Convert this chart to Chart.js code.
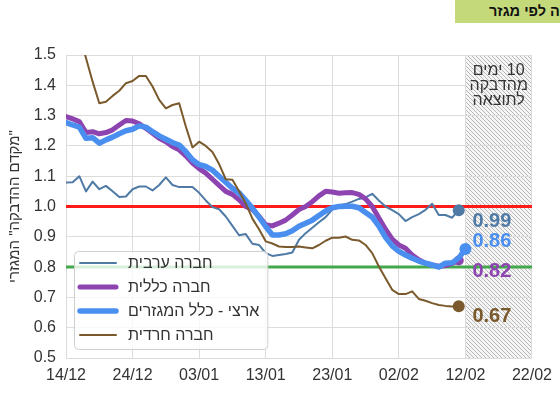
<!DOCTYPE html>
<html lang="he">
<head>
<meta charset="utf-8">
<script src="https://cdn.jsdelivr.net/npm/chart.js@4.4.1/dist/chart.umd.min.js"></script>
<style>
  html, body { margin: 0; padding: 0; background: #fff; }
  #wrap { position: relative; width: 560px; height: 398px; overflow: hidden; }
  #chart { position: absolute; left: 0; top: 0; }
  .title-box {
    position: absolute; left: 455px; top: 0; width: 105px; height: 23px;
    background: #c4d97a; overflow: hidden;
  }
  .title-box span {
    position: absolute; left: 34px; top: 3px; white-space: nowrap; direction: rtl;
    font: bold 14.5px "Liberation Sans", Arial, sans-serif; color: #111;
  }
</style>
</head>
<body>
<div id="wrap">
  <canvas id="chart" width="560" height="398"></canvas>
  <div class="title-box"><span>מקדם הדבקה לפי מגזר</span></div>
</div>
<script>
// ─────────────────────────────────────────
//  DATA  (x = days since 14/12, one value per day)
// ─────────────────────────────────────────
const DATE_TICKS = ['14/12', '24/12', '03/01', '13/01', '23/01', '02/02', '12/02', '22/02'];

const SERIES_NAMES = ['חברה ערבית', 'חברה כללית', 'ארצי - כלל המגזרים', 'חברה חרדית'];

const ARAB = [
  1.079, 1.080, 1.100, 1.050, 1.082, 1.057, 1.068, 1.050, 1.031, 1.033,
  1.057, 1.066, 1.066, 1.053, 1.071, 1.096, 1.071, 1.064, 1.064, 1.064,
  1.045, 1.020, 0.998, 0.991, 0.967, 0.936, 0.905, 0.909, 0.877, 0.873,
  0.846, 0.837, 0.840, 0.843, 0.848, 0.890, 0.912, 0.930, 0.948, 0.965,
  0.990, 1.003, 1.008, 1.016, 1.025, 1.030, 1.042, 1.020, 1.000, 0.988,
  0.975, 0.952, 0.965, 0.975, 0.989, 1.009, 0.972, 0.972, 0.963, 0.988,
];

const GENERAL = [
  1.297, 1.289, 1.280, 1.244, 1.247, 1.240, 1.244, 1.253, 1.269, 1.284,
  1.282, 1.273, 1.258, 1.242, 1.225, 1.214, 1.198, 1.187, 1.167, 1.143,
  1.125, 1.110, 1.090, 1.070, 1.050, 1.040, 1.022, 1.000, 0.990, 0.968,
  0.940, 0.936, 0.945, 0.955, 0.972, 0.990, 1.000, 1.016, 1.035, 1.050,
  1.048, 1.044, 1.045, 1.046, 1.040, 1.025, 1.000, 0.962, 0.925, 0.892,
  0.873, 0.862, 0.840, 0.824, 0.813, 0.807, 0.803, 0.805, 0.812, 0.822,
];

const NATIONAL = [
  1.277, 1.269, 1.262, 1.225, 1.227, 1.209, 1.220, 1.229, 1.240, 1.250,
  1.255, 1.266, 1.262, 1.247, 1.233, 1.222, 1.211, 1.203, 1.181, 1.154,
  1.138, 1.132, 1.120, 1.100, 1.080, 1.060, 1.045, 1.020, 0.995, 0.965,
  0.934, 0.906, 0.906, 0.910, 0.920, 0.935, 0.945, 0.955, 0.970, 0.985,
  0.996, 1.000, 1.001, 1.001, 0.996, 0.980, 0.965, 0.935, 0.898, 0.870,
  0.852, 0.840, 0.829, 0.820, 0.813, 0.807, 0.800, 0.813, 0.814, 0.830,
  0.860,
];

const HAREDI = [
  1.710, 1.640, 1.570, 1.490, 1.412, 1.341, 1.346, 1.365, 1.382, 1.407,
  1.414, 1.431, 1.431, 1.396, 1.352, 1.324, 1.335, 1.341, 1.264, 1.195,
  1.214, 1.200, 1.180, 1.140, 1.090, 1.088, 1.050, 1.010, 0.960, 0.925,
  0.885, 0.878, 0.868, 0.866, 0.866, 0.868, 0.865, 0.862, 0.873, 0.887,
  0.897, 0.897, 0.901, 0.890, 0.888, 0.873, 0.846, 0.802, 0.763, 0.725,
  0.711, 0.711, 0.720, 0.695, 0.689, 0.681, 0.675, 0.672, 0.670, 0.671,
];

const THRESHOLDS     = [1.0, 0.8];
const X_MAX          = 70;   // 22/02
const FORECAST_START = 60;   // 12/02
// note lines, words in visual left-to-right order
const FORECAST_NOTE  = [['ימים', '10'], ['מהדבקה'], ['לתוצאה']];
const Y_TITLE        = '\u200F"מקדם ההדבקה" המגזרי';

// ─────────────────────────────────────────
//  STYLE
// ─────────────────────────────────────────
const FONT = '"Liberation Sans", Arial, "DejaVu Sans", sans-serif';
const COLORS = {
  arab:     '#4f7aa6',
  general:  '#8e44b0',
  national: '#4a8ff0',
  haredi:   '#7a5a2c',
  red:      '#ff1a1a',
  green:    '#43a84c',
  grid:     '#dcdcdc',
  text:     '#333333',
};

Chart.defaults.font.family = FONT;
Chart.defaults.color = COLORS.text;

const toPoints = arr => arr.map((y, i) => ({ x: i, y }));
const lastDot  = (r) => (ctx) => ctx.dataIndex === ctx.dataset.data.length - 1 ? r : 0;

function seriesDataset(label, values, color, width, order, dotR, labelDy) {
  return {
    label,
    data: toPoints(values),
    borderColor: color,
    backgroundColor: color,
    borderWidth: width,
    borderJoinStyle: 'round',
    borderCapStyle: 'round',
    pointRadius: lastDot(dotR),
    pointHoverRadius: 0,
    pointBorderWidth: 0,
    tension: 0,
    order,
    inLegend: true,
    legendRank: SERIES_NAMES.indexOf(label),
    endLabelDy: labelDy,
  };
}

function thresholdDataset(value, color) {
  return {
    label: 'ref ' + value,
    data: [{ x: 0, y: value }, { x: X_MAX, y: value }],
    borderColor: color,
    borderWidth: 3,
    pointRadius: 0,
    order: 10,
    inLegend: false,
  };
}

// ─────────────────────────────────────────
//  PLUGINS
// ─────────────────────────────────────────
let hatch = null;
function getHatch(ctx) {
  if (hatch) return hatch;
  const n = 4;
  const c = document.createElement('canvas');
  c.width = n; c.height = n;
  const g = c.getContext('2d');
  g.fillStyle = '#f5f5f5';
  g.fillRect(0, 0, n, n);
  g.fillStyle = '#b8b8b8';
  for (let i = 0; i < n; i++) g.fillRect(i, i, 1, 1);   // "\" diagonal
  hatch = ctx.createPattern(c, 'repeat');
  return hatch;
}

const forecastPlugin = {
  id: 'forecast',
  beforeDraw(chart) {
    const { ctx, chartArea: a, scales: { x } } = chart;
    const x0 = x.getPixelForValue(FORECAST_START);
    ctx.save();
    ctx.fillStyle = getHatch(ctx);
    ctx.fillRect(x0, a.top, a.right - x0, a.bottom - a.top);
    ctx.restore();
  },
  beforeDatasetsDraw(chart) {
    const { ctx, chartArea: a, scales: { x } } = chart;
    const x0 = x.getPixelForValue(FORECAST_START);
    ctx.save();
    // note box hides the grid line behind it
    ctx.fillStyle = getHatch(ctx);
    ctx.fillRect(x0 + 1, a.top + 5, a.right - x0 - 2, 50);
    ctx.fillStyle = COLORS.text;
    ctx.font = '16px ' + FONT;
    ctx.textAlign = 'left';
    ctx.textBaseline = 'middle';
    const cx = (x0 + a.right) / 2;
    const gap = ctx.measureText(' ').width;
    FORECAST_NOTE.forEach((words, i) => {
      const widths = words.map(w => ctx.measureText(w).width);
      const total = widths.reduce((s, w) => s + w, 0) + gap * (words.length - 1);
      let px = cx - total / 2;
      words.forEach((w, j) => {
        ctx.fillText(w, px, a.top + 16 + i * 15);
        px += widths[j] + gap;
      });
    });
    ctx.restore();
  },
};

const labelsPlugin = {
  id: 'endLabels',
  afterDatasetsDraw(chart) {
    const { ctx, scales: { x, y } } = chart;
    const lx = x.getPixelForValue(FORECAST_START) + 7;

    // value labels next to the final points
    ctx.save();
    ctx.font = 'bold 20px ' + FONT;
    ctx.textAlign = 'left';
    ctx.textBaseline = 'middle';
    chart.data.datasets.forEach(ds => {
      if (!ds.inLegend) return;
      const last = ds.data[ds.data.length - 1];
      ctx.fillStyle = ds.borderColor;
      ctx.fillText(last.y.toFixed(2), lx, y.getPixelForValue(last.y) + ds.endLabelDy);
    });
    ctx.restore();

    // legend inside the plot, bottom-left
    const a = chart.chartArea;
    const items = chart.data.datasets
      .filter(ds => ds.inLegend)
      .sort((p, q) => p.legendRank - q.legendRank);
    ctx.save();
    ctx.font = '16px ' + FONT;
    const textW = Math.max(...items.map(ds => ctx.measureText(ds.label).width));
    const bw = 54 + textW + 8;
    const bh = items.length * 24 + 2;
    const bx = a.left + 8;
    const by = a.bottom - 9 - bh;
    ctx.beginPath();
    ctx.roundRect(bx + 0.5, by + 0.5, bw, bh, 4);
    ctx.fillStyle = 'rgba(255,255,255,0.8)';
    ctx.fill();
    ctx.strokeStyle = '#d0d0d0';
    ctx.lineWidth = 1;
    ctx.stroke();
    ctx.textAlign = 'left';
    ctx.textBaseline = 'middle';
    items.forEach((ds, i) => {
      const ry = by + 12 + i * 24;
      ctx.beginPath();
      ctx.moveTo(bx + 6, ry);
      ctx.lineTo(bx + 42, ry);
      ctx.strokeStyle = ds.borderColor;
      ctx.lineWidth = ds.borderWidth;
      ctx.lineCap = 'round';
      ctx.stroke();
      ctx.fillStyle = COLORS.text;
      ctx.fillText(ds.label, bx + 54, ry + 1);
    });
    ctx.restore();
  },
};

// ─────────────────────────────────────────
//  CHART
// ─────────────────────────────────────────
new Chart(document.getElementById('chart'), {
  type: 'line',
  data: {
    datasets: [
      seriesDataset(SERIES_NAMES[0], ARAB,     COLORS.arab,     2,   4, 6, 11),
      seriesDataset(SERIES_NAMES[1], GENERAL,  COLORS.general,  5,   3, 5, 11),
      seriesDataset(SERIES_NAMES[2], NATIONAL, COLORS.national, 5.5, 2, 6, -7),
      seriesDataset(SERIES_NAMES[3], HAREDI,   COLORS.haredi,   2,   1, 6, 10),
      thresholdDataset(THRESHOLDS[0], COLORS.red),
      thresholdDataset(THRESHOLDS[1], COLORS.green),
    ],
  },
  options: {
    responsive: false,
    animation: false,
    events: [],
    layout: { padding: { top: 55, right: 28, left: 0, bottom: 0 } },
    plugins: { legend: { display: false }, tooltip: { enabled: false } },
    scales: {
      x: {
        type: 'linear',
        min: 0,
        max: X_MAX,
        afterFit: s => { s.height = 40; },
        grid:   { color: COLORS.grid, drawTicks: false },
        border: { color: COLORS.grid },
        ticks: {
          stepSize: 10,
          autoSkip: false,
          maxRotation: 0,
          padding: 8,
          color: COLORS.text,
          font: { size: 16 },
          callback: v => DATE_TICKS[Math.round(v / 10)],
        },
      },
      y: {
        min: 0.5,
        max: 1.5,
        afterFit: s => { s.width = 66; },
        grid:   { color: COLORS.grid, drawTicks: false },
        border: { color: COLORS.grid },
        ticks: {
          stepSize: 0.1,
          padding: 10,
          color: COLORS.text,
          font: { size: 16 },
          callback: v => v.toFixed(1),
        },
        title: {
          display: true,
          text: Y_TITLE,
          color: COLORS.text,
          font: { size: 15 },
          padding: { top: 6, bottom: 0 },
        },
      },
    },
  },
  plugins: [forecastPlugin, labelsPlugin],
});
</script>
</body>
</html>
